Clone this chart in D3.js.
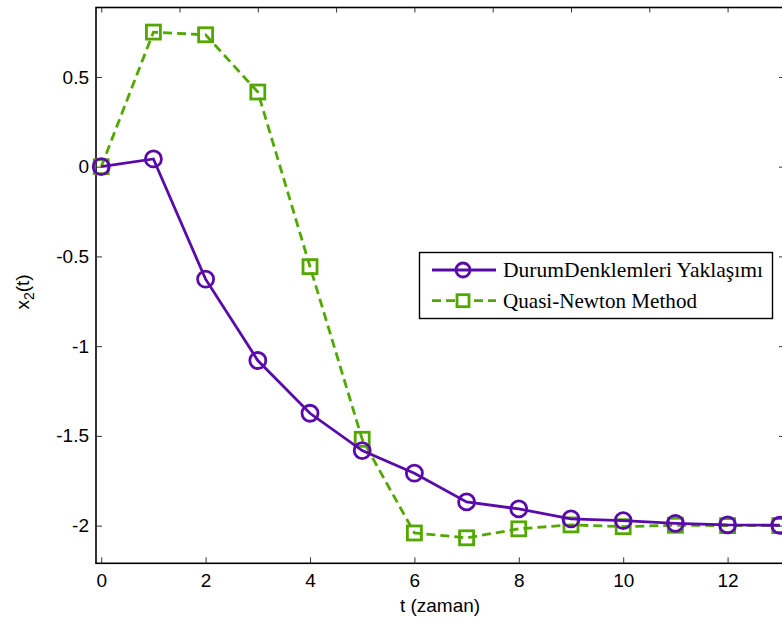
<!DOCTYPE html>
<html>
<head>
<meta charset="utf-8">
<script src="https://cdn.jsdelivr.net/npm/d3@7"></script>
<style>
  html, body { margin: 0; padding: 0; background: #fff; }
  svg { display: block; }
</style>
</head>
<body>
<svg id="chart" width="782" height="626"></svg>
<script>
const tValues = [0, 1, 2, 3, 4, 5, 6, 7, 8, 9, 10, 11, 12, 13];
const durumValues = [0, 0.043, -0.627, -1.080, -1.374, -1.582, -1.708, -1.868, -1.907, -1.963, -1.972, -1.987, -1.996, -1.998];
const quasiValues = [0, 0.750, 0.735, 0.416, -0.557, -1.519, -2.041, -2.068, -2.018, -1.996, -2.006, -1.998, -2.0, -2.0];
const xTicks = [0, 2, 4, 6, 8, 10, 12];
const topTicks = [0, 1.5, 3, 4.5, 6, 7.5, 9, 10.5, 12];
const yTicks = [0.5, 0, -0.5, -1, -1.5, -2];
const yTickLabels = ["0.5", "0", "-0.5", "-1", "-1.5", "-2"];
const seriesNames = ["DurumDenklemleri Yaklaşımı", "Quasi-Newton Method"];
const colors = ["#5a0aaa", "#52a800"];

const svg = d3.select("#chart");
const L = 96, R = 785, T = 7.5, B = 563.3;
const x = d3.scaleLinear().domain([-0.1, 13.1]).range([L, R]);
const y = d3.scaleLinear().domain([-2.21, 0.887]).range([B, T]);

const tickFont = "'Liberation Sans', Arial, sans-serif";

// axes box
svg.append("rect").attr("x", L).attr("y", T).attr("width", R - L).attr("height", B - T)
  .attr("fill", "none").attr("stroke", "#000").attr("stroke-width", 1.6);

// bottom axis
const xAxis = d3.axisBottom(x).tickValues(xTicks).tickSize(-6).tickPadding(10).tickFormat(d3.format("d"));
const gx = svg.append("g").attr("transform", `translate(0,${B})`).call(xAxis);
gx.select(".domain").remove();
gx.selectAll("line").attr("stroke", "#333");
gx.selectAll("text").attr("font-family", tickFont).attr("font-size", 19).attr("fill", "#000");

// top axis ticks
const gt = svg.append("g").attr("transform", `translate(0,${T})`)
  .call(d3.axisTop(x).tickValues(topTicks).tickSize(-5).tickFormat(""));
gt.select(".domain").remove();
gt.selectAll("line").attr("stroke", "#333");

// left axis
const yAxis = d3.axisLeft(y).tickValues(yTicks).tickSize(-6).tickPadding(7)
  .tickFormat((d, i) => yTickLabels[i]);
const gy = svg.append("g").attr("transform", `translate(${L},0)`).call(yAxis);
gy.select(".domain").remove();
gy.selectAll("line").attr("stroke", "#333");
gy.selectAll("text").attr("font-family", tickFont).attr("font-size", 19).attr("fill", "#000");

// right axis ticks
const gr = svg.append("g").attr("transform", `translate(${R},0)`)
  .call(d3.axisRight(y).tickValues(yTicks).tickSize(-6).tickFormat(""));
gr.select(".domain").remove();
gr.selectAll("line").attr("stroke", "#333");

// axis labels
svg.append("text").attr("x", 440).attr("y", 612).attr("text-anchor", "middle")
  .attr("font-family", tickFont).attr("font-size", 19).text("t (zaman)");
const yl = svg.append("text").attr("transform", "translate(29,292) rotate(-90)")
  .attr("text-anchor", "middle").attr("font-family", tickFont).attr("font-size", 19);
yl.append("tspan").text("x");
yl.append("tspan").attr("font-size", 14).attr("dy", 5).text("2");
yl.append("tspan").attr("dy", -5).text("(t)");

const line = d3.line().x((d, i) => x(tValues[i])).y(d => y(d));

// green series
svg.append("path").datum(quasiValues).attr("d", line).attr("fill", "none")
  .attr("stroke", colors[1]).attr("stroke-width", 2.8).attr("stroke-dasharray", "9,5");
svg.append("g").selectAll("rect").data(quasiValues).join("rect")
  .attr("x", (d, i) => x(tValues[i]) - 7).attr("y", d => y(d) - 7)
  .attr("width", 14).attr("height", 14).attr("fill", "none")
  .attr("stroke", colors[1]).attr("stroke-width", 2.8);

// purple series
svg.append("path").datum(durumValues).attr("d", line).attr("fill", "none")
  .attr("stroke", colors[0]).attr("stroke-width", 2.8);
svg.append("g").selectAll("circle").data(durumValues).join("circle")
  .attr("cx", (d, i) => x(tValues[i])).attr("cy", d => y(d)).attr("r", 8)
  .attr("fill", "none").attr("stroke", colors[0]).attr("stroke-width", 2.8);

// legend
const lg = svg.append("g");
lg.append("rect").attr("x", 419.5).attr("y", 252.5).attr("width", 353).attr("height", 66)
  .attr("fill", "#fff").attr("stroke", "#000").attr("stroke-width", 1.4);
const rows = [270, 300.7];
lg.append("line").attr("x1", 432).attr("x2", 496).attr("y1", rows[0]).attr("y2", rows[0])
  .attr("stroke", colors[0]).attr("stroke-width", 2.8);
lg.append("circle").attr("cx", 463).attr("cy", rows[0]).attr("r", 7)
  .attr("fill", "none").attr("stroke", colors[0]).attr("stroke-width", 2.8);
lg.append("line").attr("x1", 432).attr("x2", 496).attr("y1", rows[1]).attr("y2", rows[1])
  .attr("stroke", colors[1]).attr("stroke-width", 2.8).attr("stroke-dasharray", "9,5");
lg.append("rect").attr("x", 457).attr("y", rows[1] - 6).attr("width", 12).attr("height", 12)
  .attr("fill", "#fff").attr("stroke", colors[1]).attr("stroke-width", 2.8);
const serif = "'Liberation Serif', 'Times New Roman', serif";
lg.append("text").attr("x", 503).attr("y", rows[0] + 7).attr("font-family", serif)
  .attr("font-size", 22).attr("textLength", 260).attr("lengthAdjust", "spacingAndGlyphs")
  .text(seriesNames[0]);
lg.append("text").attr("x", 503).attr("y", rows[1] + 7).attr("font-family", serif)
  .attr("font-size", 22).attr("textLength", 194).attr("lengthAdjust", "spacingAndGlyphs")
  .text(seriesNames[1]);
</script>
</body>
</html>
